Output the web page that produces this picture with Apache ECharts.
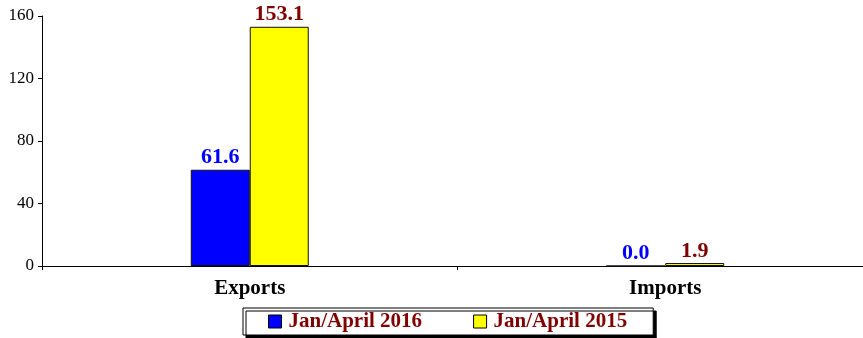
<!DOCTYPE html>
<html>
<head>
<meta charset="utf-8">
<script src="https://cdn.jsdelivr.net/npm/echarts@6/dist/echarts.min.js"></script>
<style>
  html, body { margin: 0; padding: 0; background: #fff; overflow: hidden; }
  /* the plot runs a little past the right edge of the window */
  #chart { width: 873px; height: 338px; }
</style>
</head>
<body>
<div id="chart"></div>
<script>
// Trade values, January–April comparison
const categories = ['Exports', 'Imports'];
const seriesNames = ['Jan/April 2016', 'Jan/April 2015'];
const values2016 = [61.6, 0.0];
const values2015 = [153.1, 1.9];
const yTicks = [0, 40, 80, 120, 160];

const FONT = '"Liberation Serif", "Times New Roman", serif';

const chart = echarts.init(document.getElementById('chart'));

function barSeries(name, data, fill, labelColor) {
  return {
    name: name,
    type: 'bar',
    data: data,
    barWidth: 59,
    barGap: '0%',
    itemStyle: { color: fill, borderColor: '#111', borderWidth: 1 },
    label: {
      show: true,
      position: 'top',
      distance: 1,
      formatter: p => p.value.toFixed(1),
      color: labelColor,
      fontFamily: FONT,
      fontWeight: 'bold',
      fontSize: 22
    }
  };
}

chart.setOption({
  animation: false,
  backgroundColor: '#fff',
  grid: { left: 42, right: 0, top: 16, bottom: 72, containLabel: false },
  legend: {
    data: seriesNames,
    icon: 'rect',
    left: 243,
    top: 308,
    padding: [3, 26, 3, 25],
    itemWidth: 13,
    itemHeight: 13,
    itemGap: 51,
    backgroundColor: '#fff',
    borderColor: '#000',
    borderWidth: 1,
    shadowColor: '#000',
    shadowOffsetX: 3,
    shadowOffsetY: 3,
    shadowBlur: 0,
    textStyle: { color: '#800000', fontFamily: FONT, fontWeight: 'bold', fontSize: 21, padding: [0, 0, 0, 2] },
    itemStyle: { borderColor: '#000', borderWidth: 1 }
  },
  xAxis: {
    type: 'category',
    data: categories,
    axisLine: { lineStyle: { color: '#000', width: 1 } },
    axisTick: { show: true, length: 4, lineStyle: { color: '#000' } },
    axisLabel: { color: '#000', fontFamily: FONT, fontWeight: 'bold', fontSize: 21, margin: 12 }
  },
  yAxis: {
    type: 'value',
    min: yTicks[0],
    max: yTicks[yTicks.length - 1],
    interval: 40,
    axisLine: { show: true, lineStyle: { color: '#000', width: 1 } },
    axisTick: { show: true, length: 4, lineStyle: { color: '#000' } },
    splitLine: { show: false },
    axisLabel: { color: '#000', fontFamily: FONT, fontSize: 17, margin: 8 }
  },
  series: [
    barSeries(seriesNames[0], values2016, '#0000FF', '#0000FF'),
    barSeries(seriesNames[1], values2015, '#FFFF00', '#800000')
  ]
});
</script>
</body>
</html>
